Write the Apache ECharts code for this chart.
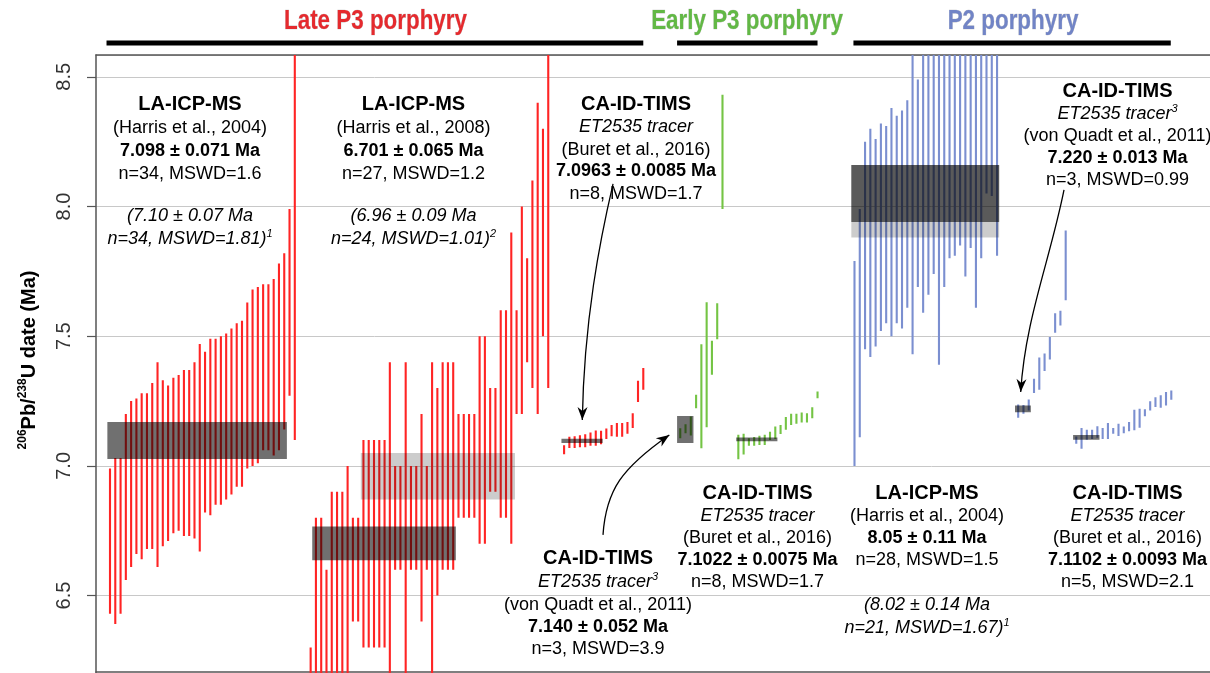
<!DOCTYPE html>
<html><head><meta charset="utf-8">
<script src="https://cdn.jsdelivr.net/npm/echarts@6/dist/echarts.min.js"></script>
<style>html,body{margin:0;padding:0;background:#fff}#c{width:1210px;height:673px}</style>
</head><body><div id="c"></div>
<script>
// ---------------- DATA (206Pb/238U dates, Ma: upper / lower end of each error bar) ----------------
// Late P3 porphyry - LA-ICP-MS (Harris et al., 2004)
const g1Hi = [6.99,7.03,7.03,7.20,7.25,7.26,7.28,7.28,7.32,7.40,7.33,7.31,7.34,7.35,7.37,7.37,7.40,7.47,7.44,7.49,7.49,7.50,7.51,7.53,7.55,7.56,7.63,7.68,7.69,7.70,7.70,7.72,7.78,7.82,7.99,8.70];
const g1Lo = [6.43,6.39,6.43,6.56,6.61,6.66,6.64,6.68,6.68,6.61,6.69,6.71,6.74,6.75,6.73,6.73,6.72,6.67,6.82,6.81,6.85,6.85,6.87,6.89,6.92,6.92,6.99,7.00,7.01,7.06,7.06,7.04,7.06,7.14,7.27,7.10];
// Late P3 porphyry - LA-ICP-MS (Harris et al., 2008)
const g2Hi = [6.30,6.80,6.80,6.60,6.90,6.90,6.90,7.00,6.80,6.80,7.10,7.10,7.10,7.10,7.10,7.40,7.00,7.00,7.40,7.00,7.00,7.20,7.00,7.40,7.30,7.40,7.40,7.40,7.20,7.20,7.20,7.20,7.50,7.50,7.30,7.30,7.60,7.60,7.90,7.60,8.00,7.80,8.10,8.40,8.30,8.70];
const g2Lo = [6.00,6.00,6.00,6.00,6.00,6.00,6.00,6.00,6.40,6.40,6.30,6.30,6.30,6.30,6.30,6.00,6.60,6.60,6.00,6.60,6.60,6.40,6.60,6.00,6.50,6.60,6.60,6.60,6.80,6.80,6.80,6.80,6.70,6.70,6.90,6.90,6.80,6.80,6.70,7.20,7.20,7.40,7.30,7.20,7.50,7.30];
// Late P3 porphyry - CA-ID-TIMS (Buret et al., 2016)
const g3Hi = [7.080,7.112,7.114,7.118,7.122,7.129,7.136,7.135,7.144,7.158,7.165,7.165,7.169,7.203,7.328,7.377];
const g3Lo = [7.045,7.069,7.069,7.072,7.072,7.078,7.078,7.083,7.104,7.114,7.112,7.112,7.124,7.146,7.246,7.294];
// Early P3 porphyry - CA-ID-TIMS (von Quadt et al., 2011)
const g4Hi = [7.145,7.161,7.190,7.274,7.469,7.631,7.482,7.627,8.431];
const g4Lo = [7.107,7.126,7.117,7.222,7.068,7.149,7.351,7.488,7.990];
// Early P3 porphyry - CA-ID-TIMS (Buret et al., 2016)
const g5Hi = [7.120,7.124,7.107,7.111,7.116,7.120,7.132,7.152,7.158,7.188,7.201,7.201,7.206,7.203,7.226,7.287];
const g5Lo = [7.026,7.044,7.078,7.078,7.081,7.081,7.100,7.104,7.123,7.139,7.158,7.162,7.167,7.167,7.184,7.261];
// P2 porphyry - LA-ICP-MS (Harris et al., 2004)
const g6Hi = [7.79,7.99,8.25,8.30,8.26,8.32,8.31,8.38,8.35,8.37,8.41,8.70,8.49,8.70,8.70,8.70,8.70,8.70,8.70,8.70,8.70,8.70,8.70,8.70,8.70,8.70,8.70,8.70];
const g6Lo = [7.00,7.11,7.45,7.42,7.46,7.52,7.55,7.50,7.55,7.53,7.61,7.43,7.69,7.59,7.66,7.74,7.39,7.69,7.80,7.81,7.85,7.73,7.84,7.61,7.80,8.05,8.04,7.81];
// P2 porphyry - CA-ID-TIMS (von Quadt et al., 2011)
const g7Hi = [7.237,7.235,7.256,7.336,7.418,7.433,7.497,7.588,7.598,7.907];
const g7Lo = [7.186,7.201,7.214,7.281,7.294,7.366,7.410,7.513,7.541,7.639];
// P2 porphyry - CA-ID-TIMS (Buret et al., 2016)
const g8Hi = [7.113,7.146,7.139,7.139,7.153,7.146,7.165,7.146,7.162,7.152,7.169,7.216,7.220,7.218,7.249,7.265,7.272,7.285,7.291];
const g8Lo = [7.085,7.066,7.101,7.104,7.108,7.104,7.104,7.124,7.115,7.126,7.134,7.137,7.147,7.191,7.214,7.227,7.224,7.233,7.255];
// first analysis index of each group on the (hidden) sequence axis
const groupStart = [3, 41, 89, 111, 122, 144, 175, 186];
// weighted-mean boxes: [from index, to index, lower date, upper date, kind]
const meanBoxes = [
  [2.5, 36.5, 7.027, 7.169, 'dark'],
  [50.5, 79.7, 6.870, 7.050, 'light'],
  [41.3, 68.5, 6.636, 6.766, 'dark'],
  [88.5, 96.3, 7.0878, 7.1048, 'dark'],
  [110.4, 113.5, 7.088, 7.192, 'dark'],
  [121.6, 129.4, 7.0947, 7.1097, 'dark'],
  [143.4, 171.4, 7.88, 8.16, 'light'],
  [143.4, 171.4, 7.94, 8.16, 'dark'],
  [174.4, 177.4, 7.207, 7.233, 'dark'],
  [185.4, 190.4, 7.1009, 7.1195, 'dark']
];
// y-axis ticks
const yMin = 6.0, yMax = 8.584, yStep = 0.5;
// header spans (sequence index ranges covered by each porphyry)
const headerSpans = [[2.34, 104.0], [110.4, 137.0], [143.8, 203.9]];
const headerNames = ['Late P3 porphyry', 'Early P3 porphyry', 'P2 porphyry'];
// arrows: cubic curves in data space [index, date]
const arrows = [
  [[98.27, 8.087], [95.80, 7.871], [92.77, 7.562], [92.45, 7.177]],
  [[96.37, 6.734], [96.94, 6.907], [99.97, 6.992], [108.93, 7.119]],
  [[183.68, 8.064], [181.03, 7.794], [176.29, 7.562], [175.48, 7.285]]
];

// ---------------- STYLE ----------------
const RED = '#ff2424', GREEN = '#74c444', BLUE = '#7b8fd0';
const FONT = "'Liberation Sans', Arial, Helvetica, sans-serif";

const groups = [
  [g1Hi, g1Lo, RED], [g2Hi, g2Lo, RED], [g3Hi, g3Lo, RED],
  [g4Hi, g4Lo, GREEN], [g5Hi, g5Lo, GREEN],
  [g6Hi, g6Lo, BLUE], [g7Hi, g7Lo, BLUE], [g8Hi, g8Lo, BLUE]
];

function barRender(color) {
  return function (params, api) {
    const x = api.value(0), lo = api.value(1), hi = api.value(2);
    const a = api.coord([x, lo]), b = api.coord([x, hi]);
    return { type: 'line', shape: { x1: a[0], y1: a[1], x2: b[0], y2: b[1] },
      style: { stroke: color, lineWidth: 2.1 } };
  };
}

const series = groups.map((g, k) => ({
  type: 'custom', clip: true, z: 2,
  renderItem: barRender(g[2]),
  encode: { x: 0, y: [1, 2] },
  data: g[0].map((hi, i) => [groupStart[k] + i, g[1][i], hi])
}));
series.push({
  type: 'custom', clip: true, z: 3,
  encode: { x: [0, 1], y: [2, 3] },
  data: meanBoxes.map(b => b.slice(0, 4)),
  renderItem: function (params, api) {
    const p1 = api.coord([api.value(0), api.value(3)]);
    const p2 = api.coord([api.value(1), api.value(2)]);
    const kind = meanBoxes[params.dataIndex][4];
    return { type: 'rect', shape: { x: p1[0], y: p1[1], width: p2[0] - p1[0], height: p2[1] - p1[1] },
      style: { fill: kind === 'dark' ? 'rgba(0,0,0,0.56)' : 'rgba(0,0,0,0.2)' } };
  }
});

const chart = echarts.init(document.getElementById('c'), null, { renderer: 'canvas' });
const gridTop = 55, gridLeft = 96;
const pxPerUnitY = 259.4;
const gridBottom = 673 - (gridTop + (yMax - yMin) * pxPerUnitY);

chart.setOption({
  animation: false,
  backgroundColor: '#fff',
  grid: { left: gridLeft, right: 0, top: gridTop, bottom: gridBottom, outerBoundsMode: 'none', containLabel: false },
  xAxis: [
    { type: 'value', min: 0.348, max: 211.33, position: 'bottom', offset: gridBottom - 1.5,
      axisLine: { show: true, lineStyle: { color: '#555', width: 1.5 } },
      axisTick: { show: false }, axisLabel: { show: false }, splitLine: { show: false } },
    { type: 'value', min: 0.348, max: 211.33, position: 'top',
      axisLine: { show: true, lineStyle: { color: '#555', width: 1.5 } },
      axisTick: { show: false }, axisLabel: { show: false }, splitLine: { show: false } }
  ],
  yAxis: {
    type: 'value', min: yMin, max: yMax, interval: yStep,
    axisLine: { show: true, lineStyle: { color: '#555', width: 1.5 } },
    axisTick: { show: true, length: 9, lineStyle: { color: '#555', width: 1.2 } },
    axisLabel: { rotate: 90, fontSize: 20, fontFamily: FONT, color: '#333', margin: 22,
      showMaxLabel: false, formatter: v => v.toFixed(1) },
    splitLine: { show: true, lineStyle: { color: '#c8c8c8', width: 1 } }
  },
  series: series
});

// ---------------- annotations ----------------
const rich = {
  h: { fontFamily: FONT, fontSize: 20, fontWeight: 'bold', fill: '#000', lineHeight: 22 },
  n: { fontFamily: FONT, fontSize: 18, fill: '#000', lineHeight: 22 },
  b: { fontFamily: FONT, fontSize: 18, fontWeight: 'bold', fill: '#000', lineHeight: 22 },
  i: { fontFamily: FONT, fontSize: 18, fontStyle: 'italic', fill: '#000', lineHeight: 22 },
  si: { fontFamily: FONT, fontSize: 11, fontStyle: 'italic', fill: '#000', lineHeight: 14, verticalAlign: 'top' }
};
const blocks = [
  [190, [[104, '{h|LA-ICP-MS}'], [128, '{n|(Harris et al., 2004)}'], [151, '{b|7.098 ± 0.071 Ma}'], [174, '{n|n=34, MSWD=1.6}'], [216, '{i|(7.10 ± 0.07 Ma}'], [239, '{i|n=34, MSWD=1.81)}{si|1}']]],
  [413.5, [[104, '{h|LA-ICP-MS}'], [128, '{n|(Harris et al., 2008)}'], [151, '{b|6.701 ± 0.065 Ma}'], [174, '{n|n=27, MSWD=1.2}'], [216, '{i|(6.96 ± 0.09 Ma}'], [239, '{i|n=24, MSWD=1.01)}{si|2}']]],
  [636, [[104, '{h|CA-ID-TIMS}'], [127, '{i|ET2535 tracer}'], [150, '{n|(Buret et al., 2016)}'], [171, '{b|7.0963 ± 0.0085 Ma}'], [194, '{n|n=8, MSWD=1.7}']]],
  [1117.5, [[91, '{h|CA-ID-TIMS}'], [114, '{i|ET2535 tracer}{si|3}'], [136, '{n|(von Quadt et al., 2011)}'], [158, '{b|7.220 ± 0.013 Ma}'], [180, '{n|n=3, MSWD=0.99}']]],
  [598, [[558, '{h|CA-ID-TIMS}'], [582, '{i|ET2535 tracer}{si|3}'], [605, '{n|(von Quadt et al., 2011)}'], [627, '{b|7.140 ± 0.052 Ma}'], [649, '{n|n=3, MSWD=3.9}']]],
  [757.5, [[493, '{h|CA-ID-TIMS}'], [516, '{i|ET2535 tracer}'], [538, '{n|(Buret et al., 2016)}'], [560, '{b|7.1022 ± 0.0075 Ma}'], [582, '{n|n=8, MSWD=1.7}']]],
  [927, [[493, '{h|LA-ICP-MS}'], [516, '{n|(Harris et al., 2004)}'], [538, '{b|8.05 ± 0.11 Ma}'], [560, '{n|n=28, MSWD=1.5}'], [605, '{i|(8.02 ± 0.14 Ma}'], [628, '{i|n=21, MSWD=1.67)}{si|1}']]],
  [1127.5, [[493, '{h|CA-ID-TIMS}'], [516, '{i|ET2535 tracer}'], [538, '{n|(Buret et al., 2016)}'], [560, '{b|7.1102 ± 0.0093 Ma}'], [582, '{n|n=5, MSWD=2.1}']]]
];

const graphics = [];
blocks.forEach(([cx, lines]) => {
  lines.forEach(([y, t]) => {
    graphics.push({ type: 'text', x: cx, y: y, z: 10,
      style: { text: t, rich: rich, align: 'center', verticalAlign: 'middle' } });
  });
});

// y-axis title
graphics.push({ type: 'text', x: 29, y: 360, rotation: Math.PI / 2, z: 10,
  style: { text: '{s|206}{t|Pb/}{s|238}{t|U date (Ma)}', align: 'center', verticalAlign: 'middle',
    rich: { t: { fontFamily: FONT, fontSize: 20, fontWeight: 'bold', fill: '#000', lineHeight: 24 },
            s: { fontFamily: FONT, fontSize: 12, fontWeight: 'bold', fill: '#000', lineHeight: 15, verticalAlign: 'top' } } } });

const toPx = p => chart.convertToPixel({ xAxisIndex: 0, yAxisIndex: 0 }, p);
const titleColors = ['#e52a2e', '#62b845', '#7184c6'];
headerSpans.forEach((s) => {
  const a = toPx([s[0], yMax]), b = toPx([s[1], yMax]);
  graphics.push({ type: 'rect', shape: { x: a[0], y: 40.5, width: b[0] - a[0], height: 5 }, style: { fill: '#000' }, z: 10 });
});
[[375.5, 0], [747, 1], [1013, 2]].forEach(([cx, k]) => {
  graphics.push({ type: 'text', x: cx, y: 21, scaleX: 0.8, z: 10,
    style: { text: headerNames[k], fontFamily: FONT, fontSize: 28, fontWeight: 'bold', fill: titleColors[k],
      align: 'center', verticalAlign: 'middle', stroke: 'rgba(0,0,0,0.25)', lineWidth: 0.6 } });
});

arrows.forEach(a => {
  const p = a.map(toPx);
  graphics.push({ type: 'bezierCurve', z: 11,
    shape: { x1: p[0][0], y1: p[0][1], cpx1: p[1][0], cpy1: p[1][1], cpx2: p[2][0], cpy2: p[2][1], x2: p[3][0], y2: p[3][1] },
    style: { stroke: '#000', lineWidth: 1.3, fill: null } });
  const dx = p[3][0] - p[2][0], dy = p[3][1] - p[2][1];
  const L = Math.hypot(dx, dy), ux = dx / L, uy = dy / L;
  const len = 13, hw = 5;
  const bx = p[3][0] - ux * len, by = p[3][1] - uy * len;
  graphics.push({ type: 'polygon', z: 12,
    shape: { points: [[p[3][0], p[3][1]], [bx - uy * hw, by + ux * hw], [p[3][0] - ux * len * 0.7, p[3][1] - uy * len * 0.7], [bx + uy * hw, by - ux * hw]] },
    style: { fill: '#000' } });
});

chart.setOption({ graphic: graphics });
</script></body></html>
